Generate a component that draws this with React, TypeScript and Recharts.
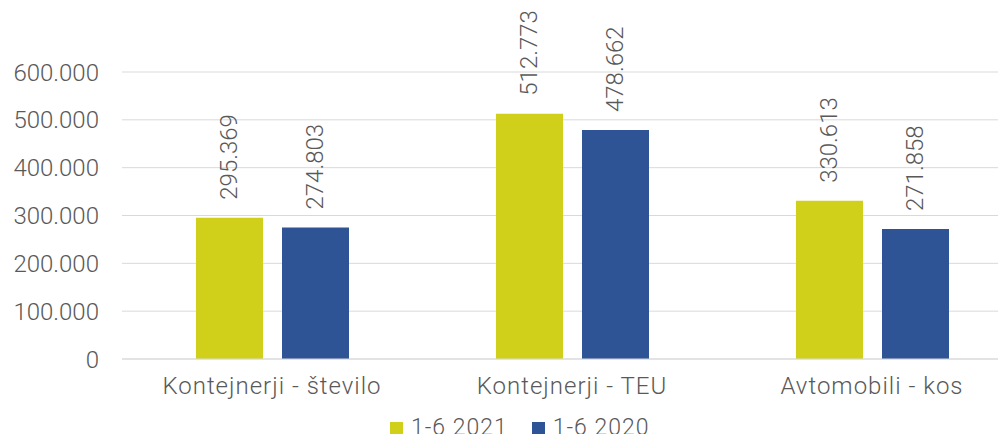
import { BarChart, Bar, XAxis, YAxis, CartesianGrid } from 'recharts'

const categories = ['Kontejnerji - število', 'Kontejnerji - TEU', 'Avtomobili - kos']
const seriesNames = ['1-6 2021', '1-6 2020']
const values2021 = [295369, 512773, 330613]
const values2020 = [274803, 478662, 271858]
const yTicks = [0, 100000, 200000, 300000, 400000, 500000, 600000]

const FONT = 'Roboto, "DejaVu Sans Condensed", sans-serif'
const TEXT = '#595959'
const COLORS = ['#D0D01B', '#2E5496']

const fmt = (v: number) => String(v).replace(/\B(?=(\d{3})+(?!\d))/g, '.')

const data = categories.map((name, i) => ({
  name,
  y2021: values2021[i],
  y2020: values2020[i],
}))

const ValueLabel = (props: any) => {
  const { x, y, width, value } = props
  const cx = x + width / 2
  const cy = y - 18
  return (
    <text
      x={cx}
      y={cy}
      transform={`rotate(-90, ${cx}, ${cy})`}
      textAnchor="start"
      dominantBaseline="central"
      fill={TEXT}
      fontSize={24}
      fontWeight={300}
      fontFamily={FONT}
    >
      {fmt(value)}
    </text>
  )
}

export default function App() {
  return (
    <div style={{ margin: -8, width: 1006, height: 442, overflow: 'hidden', background: '#fff', position: 'relative' }}>
      <BarChart
        width={1030}
        height={442}
        data={data}
        margin={{ top: 72, right: 8, bottom: 33, left: 0 }}
        barSize={67}
        barGap={19}
      >
        <CartesianGrid vertical={false} stroke="#d9d9d9" />
        <XAxis
          dataKey="name"
          axisLine={{ stroke: '#d9d9d9' }}
          tickLine={false}
          tickSize={0}
          tickMargin={18}
          height={50}
          tick={{ fill: TEXT, fontSize: 24, fontWeight: 300, fontFamily: FONT, letterSpacing: 1 }}
        />
        <YAxis
          domain={[0, 600000]}
          ticks={yTicks}
          width={122}
          axisLine={false}
          tickLine={false}
          tickSize={0}
          tickMargin={23}
          tickFormatter={fmt}
          tick={{ fill: TEXT, fontSize: 24, fontWeight: 300, fontFamily: FONT }}
        />
        <Bar dataKey="y2021" name={seriesNames[0]} fill={COLORS[0]} isAnimationActive={false} label={<ValueLabel />} />
        <Bar dataKey="y2020" name={seriesNames[1]} fill={COLORS[1]} isAnimationActive={false} label={<ValueLabel />} />
      </BarChart>
      <div
        style={{
          position: 'absolute',
          top: 416,
          left: 390,
          display: 'flex',
          alignItems: 'center',
          fontFamily: FONT,
          fontWeight: 300,
          fontSize: 23,
          color: TEXT,
          lineHeight: '24px',
          height: 24,
        }}
      >
        {seriesNames.map((n, i) => (
          <div key={n} style={{ display: 'flex', alignItems: 'center', marginRight: 24 }}>
            <span style={{ width: 13, height: 13, background: COLORS[i], marginRight: 8, display: 'inline-block' }} />
            <span style={{ letterSpacing: 1 }}>{n}</span>
          </div>
        ))}
      </div>
    </div>
  )
}
